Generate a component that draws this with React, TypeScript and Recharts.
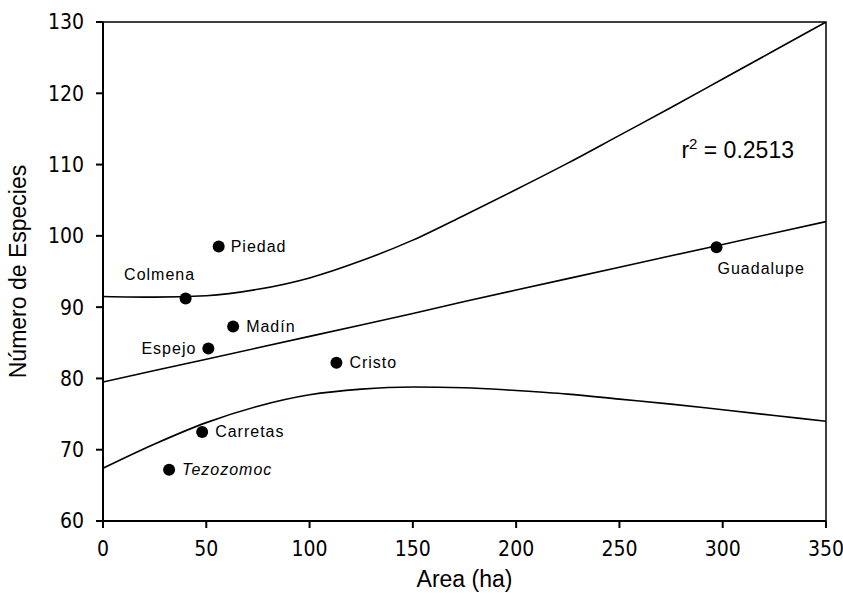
import React from "react"
import { ComposedChart, Line, Scatter, XAxis, YAxis, ReferenceArea, ReferenceDot, Label } from "recharts"

// sites
const sites = ["Piedad", "Colmena", "Madín", "Espejo", "Cristo", "Carretas", "Tezozomoc", "Guadalupe"]
const areaHa = [56, 40, 63, 51, 113, 48, 32, 297]
const species = [98.5, 91.2, 87.3, 84.2, 82.2, 72.5, 67.2, 98.4]

// regression line + confidence band
const bandX = [0, 25, 50, 75, 100, 125, 150, 175, 200, 225, 250, 275, 300, 325, 350]
const fitY = [79.5, 81.1, 82.7, 84.3, 85.9, 87.5, 89.1, 90.8, 92.4, 94.0, 95.6, 97.2, 98.8, 100.4, 102.0]
const upperY = [91.5, 91.4, 91.6, 92.5, 94.1, 96.5, 99.4, 102.9, 106.5, 110.2, 114.1, 118.0, 122.0, 126.0, 130.0]
const lowerY = [67.4, 70.8, 73.8, 76.1, 77.7, 78.5, 78.8, 78.7, 78.3, 77.8, 77.1, 76.4, 75.6, 74.8, 74.0]

const xTicks = [0, 50, 100, 150, 200, 250, 300, 350]
const yTicks = [60, 70, 80, 90, 100, 110, 120, 130]

const FONT = "'Liberation Sans', Arial, sans-serif"
const NARROW = "'Liberation Sans Narrow', 'Arial Narrow', 'DejaVu Sans Condensed', sans-serif"

// where each site's name sits relative to its dot
const labelPlace: Record<string, { dx: number; dy: number; anchor: string }> = {
  Piedad: { dx: 12, dy: 0, anchor: "start" },
  Colmena: { dx: -26, dy: -24, anchor: "middle" },
  "Madín": { dx: 13, dy: 0, anchor: "start" },
  Espejo: { dx: -12, dy: 0, anchor: "end" },
  Cristo: { dx: 13, dy: 0, anchor: "start" },
  Carretas: { dx: 13, dy: 0, anchor: "start" },
  Tezozomoc: { dx: 13, dy: 0, anchor: "start" },
  Guadalupe: { dx: 1, dy: 21, anchor: "start" },
}

const points = sites.map((name, i) => ({ name, x: areaHa[i], y: species[i] }))
const toSeries = (ys: number[]) => bandX.map((x, i) => ({ x, y: ys[i] }))

function SiteDot(props: any) {
  const { cx, cy, payload } = props
  const p = labelPlace[payload.name]
  return (
    <g>
      <circle cx={cx} cy={cy} r={6} fill="#000" />
      <text
        x={cx + p.dx}
        y={cy + p.dy}
        textAnchor={p.anchor as any}
        dominantBaseline="central"
        fontFamily={FONT}
        fontSize={16}
        letterSpacing={1}
        fontStyle={payload.name === "Tezozomoc" ? "italic" : "normal"}
        fill="#000"
      >
        {payload.name}
      </text>
    </g>
  )
}

function YTitle(props: any) {
  const { viewBox } = props
  const x = 18
  const y = viewBox.y + viewBox.height / 2
  return (
    <text x={x} y={y} transform={`rotate(-90, ${x}, ${y})`} textAnchor="middle" dominantBaseline="central"
      fontFamily={FONT} fontSize={23} fill="#000">
      Número de Especies
    </text>
  )
}

function XTitle(props: any) {
  const { viewBox } = props
  return (
    <text x={viewBox.x + viewBox.width / 2} y={viewBox.y + 66} textAnchor="middle"
      fontFamily={FONT} fontSize={23} fill="#000">
      Area (ha)
    </text>
  )
}

function R2Label(props: any) {
  const { viewBox } = props
  return (
    <text x={viewBox.x} y={viewBox.y + 8} fontFamily={FONT} fontSize={23} fill="#000">
      r<tspan dy={-9} fontSize={15}>2</tspan><tspan dy={9}> = 0.2513</tspan>
    </text>
  )
}

export default function App() {
  const tickStyle = { fontFamily: NARROW, fontSize: 21, fill: "#000" }
  return (
    <div style={{ position: "absolute", left: 0, top: 0, background: "#fff" }}>
      <ComposedChart width={843} height={599} margin={{ top: 22, right: 17, bottom: 0, left: 0 }}>
        <XAxis
          type="number"
          dataKey="x"
          domain={[0, 350]}
          ticks={xTicks}
          allowDataOverflow
          height={78}
          tickSize={7}
          tickMargin={13}
          tick={tickStyle}
          stroke="#000"
          strokeWidth={2}
        >
          <Label content={<XTitle />} />
        </XAxis>
        <YAxis
          type="number"
          dataKey="y"
          domain={[60, 130]}
          ticks={yTicks}
          allowDataOverflow
          width={103}
          tickSize={7}
          tickMargin={12}
          tick={tickStyle}
          stroke="#000"
          strokeWidth={2}
        >
          <Label content={<YTitle />} />
        </YAxis>
        <ReferenceArea x1={0} x2={350} y1={60} y2={130} fill="none" stroke="#000" strokeWidth={1.5} fillOpacity={0} />
        <Line data={toSeries(upperY)} dataKey="y" type="monotone" stroke="#000" strokeWidth={1.6} dot={false} isAnimationActive={false} />
        <Line data={toSeries(fitY)} dataKey="y" type="linear" stroke="#000" strokeWidth={1.6} dot={false} isAnimationActive={false} />
        <Line data={toSeries(lowerY)} dataKey="y" type="monotone" stroke="#000" strokeWidth={1.6} dot={false} isAnimationActive={false} />
        <Scatter data={points} dataKey="y" shape={<SiteDot />} isAnimationActive={false} />
        <ReferenceDot x={280} y={112} r={0} fill="none" stroke="none" label={<R2Label />} />
      </ComposedChart>
    </div>
  )
}
